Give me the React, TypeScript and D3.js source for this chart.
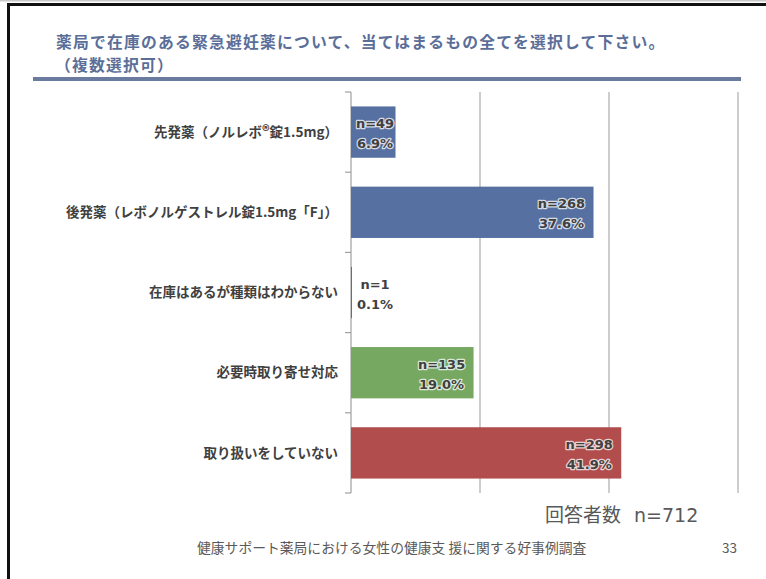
import React from "react";
import * as d3 from "d3";

const categories = [
  "先発薬（ノルレボ®錠1.5mg）",
  "後発薬（レボノルゲストレル錠1.5mg「F」）",
  "在庫はあるが種類はわからない",
  "必要時取り寄せ対応",
  "取り扱いをしていない",
];
const counts = [49, 268, 1, 135, 298];
const percents = [6.9, 37.6, 0.1, 19.0, 41.9];
const barColors = ["#5670A1", "#5670A1", "#5670A1", "#77A862", "#B24D4D"];
const xTicks = [0, 20, 40, 60];

const W = 766;
const H = 579;
const X0 = 351;
const X1 = 738;
const Y0 = 92;
const Y1 = 493;

function CatLabel({ text }: { text: string }) {
  const parts = text.split("®");
  if (parts.length === 1) return <>{text}</>;
  return (
    <>
      {parts[0]}
      <tspan fontSize={15}>®</tspan>
      {parts[1]}
    </>
  );
}

export default function App() {
  const x = d3.scaleLinear().domain([0, 60]).range([X0, X1]);
  const y = d3
    .scaleBand<string>()
    .domain(categories)
    .range([Y0, Y1])
    .paddingInner(0.36)
    .paddingOuter(0.18);
  const step = y.step();
  const boundaries = d3.range(categories.length + 1).map((i) => Y0 + i * step);
  const jp = "'Noto Sans CJK JP', 'Noto Sans', sans-serif";
  const lat = "'DejaVu Sans', Verdana, sans-serif";

  return (
    <svg
      width={W}
      height={H}
      style={{ position: "absolute", left: 0, top: 0, background: "#fff" }}
    >
      {/* frame */}
      <rect x={0} y={0} width={W} height={1.5} fill="#C8C8C8" />
      <rect x={7} y={3} width={W - 7} height={3} fill="#111" />
      <rect x={7} y={3} width={3} height={H - 3} fill="#111" />

      {/* title */}
      <text x={56} y={47.5} fontFamily={jp} fontWeight="bold" fontSize={15.8} letterSpacing={1.2} fill="#5B6E98">
        薬局で在庫のある緊急避妊薬について、当てはまるもの全てを選択して下さい。
      </text>
      <text x={55} y={70.5} fontFamily={jp} fontWeight="bold" fontSize={15.8} letterSpacing={1.2} fill="#5B6E98">
        （複数選択可）
      </text>
      <rect x={33} y={77} width={708} height={4} fill="#6B7BA0" />

      {/* gridlines */}
      {xTicks.slice(1).map((t) => (
        <line key={t} x1={x(t)} x2={x(t)} y1={Y0} y2={Y1} stroke="#BDBDBD" strokeWidth={1.5} />
      ))}
      {/* axis */}
      <line x1={X0} x2={X0} y1={Y0} y2={Y1} stroke="#A0A0A0" strokeWidth={1.2} />
      {boundaries.map((b, i) => (
        <line key={i} x1={X0 - 6} x2={X0} y1={b} y2={b} stroke="#A0A0A0" strokeWidth={1.2} />
      ))}

      {/* bars */}
      {categories.map((c, i) => (
        <rect
          key={c}
          x={x(0)}
          y={y(c)!}
          width={Math.max(x(percents[i]) - x(0), 1)}
          height={y.bandwidth()}
          fill={barColors[i]}
        />
      ))}

      {/* category labels */}
      {categories.map((c) => (
        <text
          key={c}
          x={338}
          y={y(c)! + y.bandwidth() / 2}
          dy="0.35em"
          textAnchor="end"
          fontFamily={jp}
          fontWeight="bold"
          fontSize={13.5}
          fill="#404040"
        >
          <CatLabel text={c} />
        </text>
      ))}

      {/* data labels */}
      {categories.map((c, i) => {
        const cx = Math.max(x(percents[i]) - 32, x(0) + 24);
        const cy = y(c)! + y.bandwidth() / 2;
        const common = {
          textAnchor: "middle" as const,
          fontFamily: lat,
          fontWeight: "bold",
          fontSize: 13,
          fill: "#404040",
          stroke: "#FFFFFF",
          strokeWidth: 2.5,
          strokeOpacity: 0.75,
          strokeLinejoin: "round" as const,
          paintOrder: "stroke",
        };
        return (
          <g key={c}>
            <text x={cx} y={cy - 4} {...common}>{`n=${counts[i]}`}</text>
            <text x={cx} y={cy + 16} {...common}>{`${percents[i].toFixed(1)}%`}</text>
          </g>
        );
      })}

      {/* footer */}
      <text y={522} fontSize={19} fill="#595959">
        <tspan x={545} fontFamily={jp}>回答者数</tspan>
        <tspan x={634} fontFamily={lat}>n=712</tspan>
      </text>
      <text x={197} y={553} fontFamily={jp} fontSize={13.8} fill="#595959">
        健康サポート薬局における女性の健康支 援に関する好事例調査
      </text>
      <text x={737} y={553} textAnchor="end" fontFamily={jp} fontSize={13.5} fill="#595959">
        33
      </text>
    </svg>
  );
}
